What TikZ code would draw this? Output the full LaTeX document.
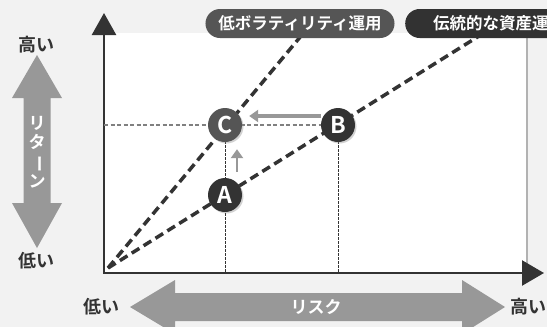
\documentclass[tikz,border=0pt]{standalone}
\usepackage{fontspec}
\setmainfont{Noto Sans CJK JP}[BoldFont=* Bold]
\usetikzlibrary{arrows.meta,shadows}
\definecolor{bg}{RGB}{242,242,242}
\definecolor{ink}{RGB}{51,51,51}
\definecolor{bigarrow}{RGB}{152,152,152}
\definecolor{pillmid}{RGB}{85,85,85}
\definecolor{pilldark}{RGB}{50,50,50}
\tikzset{
  ball/.style={circle, fill=ink, text=white, minimum size=34pt, inner sep=0pt,
    font=\bfseries\fontsize{23}{23}\selectfont,
    drop shadow={opacity=0.35, shadow xshift=1.5pt, shadow yshift=-1.5pt}},
  pill/.style={rounded corners=14.5pt, text=white, minimum height=29pt, inner xsep=13pt,
    font=\bfseries\fontsize{16.5}{16.5}\selectfont},
  lbl/.style={text=ink, inner sep=0pt, font=\bfseries\fontsize{18}{18}\selectfont},
  inlbl/.style={text=white, inner sep=0pt, font=\bfseries\fontsize{17}{19.5}\selectfont},
  trend/.style={ink, line width=3.5pt, dash pattern=on 9pt off 5pt},
  guideh/.style={gray, line width=1.5pt, dash pattern=on 4pt off 2.5pt},
  guidev/.style={ink, line width=1pt, dash pattern=on 2.5pt off 1.5pt},
  shiftarrow/.style={bigarrow, line width=3.5pt, -{Triangle[length=9pt,width=12pt]}},
}
\begin{document}
\begin{tikzpicture}[x=1pt,y=-1pt]
  \useasboundingbox (0,0) rectangle (547,327);
  \fill[bg] (0,0) rectangle (547,327);
  \fill[white] (103,33) rectangle (527,273);
  \draw[gray!60, line width=2.5pt] (527,36) -- (527,273);
  % big grey arrows
  \fill[bigarrow] (37,55) -- (62,98) -- (50.5,98) -- (50.5,203) -- (62,203) -- (37,248)
    -- (12,203) -- (23.5,203) -- (23.5,98) -- (12,98) -- cycle;
  \fill[bigarrow] (130,307) -- (175,280) -- (175,293) -- (462,293) -- (462,280) -- (505,307)
    -- (462,334) -- (462,321) -- (175,321) -- (175,334) -- cycle;
  \node[inlbl, align=center] (ret) at (37,152) {リ\\タ\\\rotatebox[origin=c]{-90}{ー}\\ン};
  \node[inlbl] (risk) at (316,307) {リスク};
  \node[lbl] (rhigh) at (36,45) {高い};
  \node[lbl] (rlow) at (36,261) {低い};
  \node[lbl] (klow) at (101,307) {低い};
  \node[lbl] (khigh) at (528,307) {高い};
  % axes
  \coordinate (O) at (104,273);
  \coordinate (ytip) at (104,13);
  \coordinate (xtip) at (544,273);
  \draw[ink, line width=2.5pt, {Triangle[width=24pt,length=22pt]}-{Triangle[width=25pt,length=22pt]}]
    (ytip) -- (O) -- (xtip);
  % guides and trend lines
  \coordinate (pA) at (225,195);
  \coordinate (pB) at (338,125);
  \coordinate (pC) at (225,125);
  \coordinate (ylevel) at (104,125);
  \coordinate (start) at (108,268);
  \coordinate (lowEnd) at (301,36);
  \coordinate (tradEnd) at (479,36);
  \draw[guideh] (ylevel) -- (pB);
  \draw[guidev] (pC) -- (pC |- O);
  \draw[guidev] (pB) -- (pB |- O);
  \draw[trend] (start) -- (lowEnd);
  \draw[trend] (start) -- (tradEnd);
  % labels on top
  \node[pill, fill=pillmid] (lowvol) at (300,23.5) {低ボラティリティ運用};
  \node[pill, fill=pilldark, anchor=west, inner xsep=28pt] (trad) at (405,23.5) {伝統的な資産運用};
  % points
  \node[ball, fill=pillmid] (C) at (pC) {C};
  \node[ball] (B) at (pB) {B};
  \node[ball] (A) at (pA) {A};
  \draw[shiftarrow, shorten >=7pt] ([yshift=9pt]B.west) -- ([yshift=9pt]C.east);
  \draw[shiftarrow, line width=2.5pt, shorten <=6pt, shorten >=7pt] ([xshift=12pt]A.north) -- ([xshift=12pt]C.south);
\end{tikzpicture}
\end{document}
